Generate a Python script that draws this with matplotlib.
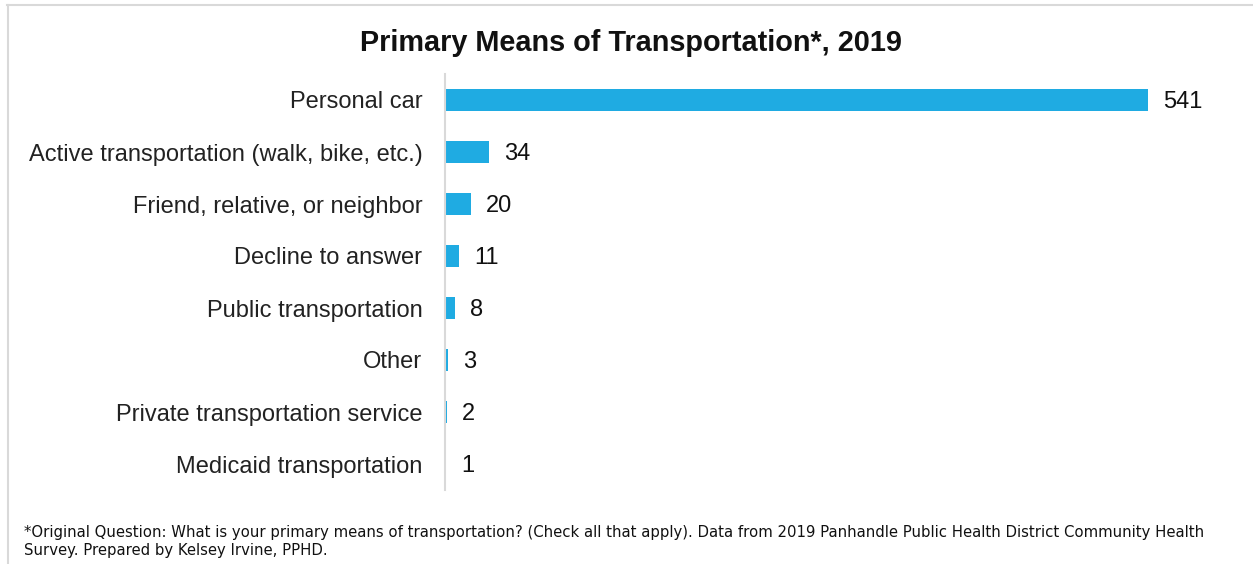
import matplotlib
matplotlib.use("Agg")
import matplotlib.pyplot as plt
from matplotlib.lines import Line2D

categories = ["Personal car", "Active transportation (walk, bike, etc.)",
              "Friend, relative, or neighbor", "Decline to answer",
              "Public transportation", "Other",
              "Private transportation service", "Medicaid transportation"]
values = [541, 34, 20, 11, 8, 3, 2, 1]
title = "Primary Means of Transportation*, 2019"
footnote1 = ("*Original Question: What is your primary means of transportation? (Check all that apply). "
             "Data from 2019 Panhandle Public Health District Community Health")
footnote2 = "Survey. Prepared by Kelsey Irvine, PPHD."

W, H = 1253, 564
fig = plt.figure(figsize=(W / 100, H / 100), dpi=100)
plt.rcParams['font.family'] = ['Liberation Sans', 'DejaVu Sans']

ax_left, ax_right = 444.5, 1225
ax_top, ax_bot = 74, 490
ax = fig.add_axes([ax_left / W, 1 - ax_bot / H, (ax_right - ax_left) / W, (ax_bot - ax_top) / H])
xmax = (ax_right - ax_left) / 1.301

y = list(range(len(categories)))
ax.barh(y, values, height=0.41, color='#1FABE2')
ax.set_ylim(len(categories) - 0.5, -0.5)
ax.set_xlim(0, xmax)
ax.set_yticks(y)
ax.set_yticklabels(categories, fontsize=17, color='#222222', family=['Liberation Sans', 'DejaVu Sans'])
ax.tick_params(axis='y', length=0, pad=16)
ax.set_xticks([])
for s in ['top', 'right', 'bottom']:
    ax.spines[s].set_visible(False)
ax.spines['left'].set_color('#D9D9D9')
ax.spines['left'].set_linewidth(1.5)

for yi, v in zip(y, values):
    ax.annotate(str(v), (v, yi), xytext=(15, 0), textcoords='offset pixels',
                va='center_baseline', ha='left', fontsize=17, color='#111111',
                family=['Liberation Sans', 'DejaVu Sans'])

fig.text(631 / W, 1 - 43 / H, title, ha='center', va='center', fontsize=20.8, fontweight='bold',
         color='#111111', family=['Liberation Sans', 'DejaVu Sans'])

fig.text(24 / W, 1 - 533 / H, footnote1, ha='left', va='center', fontsize=10.7, family=['DejaVu Sans'], color='#111111')
fig.text(24 / W, 1 - 550 / H, footnote2, ha='left', va='center', fontsize=10.7, family=['DejaVu Sans'], color='#111111')

# border of the surrounding box (top and left edges visible)
fig.add_artist(Line2D([7 / W, 1], [1 - 4.5 / H, 1 - 4.5 / H], transform=fig.transFigure, color='#D9D9D9', lw=1.5))
fig.add_artist(Line2D([7.5 / W, 7.5 / W], [0, 1 - 4.5 / H], transform=fig.transFigure, color='#D9D9D9', lw=1.5))

fig.savefig("out.png", dpi=100)
